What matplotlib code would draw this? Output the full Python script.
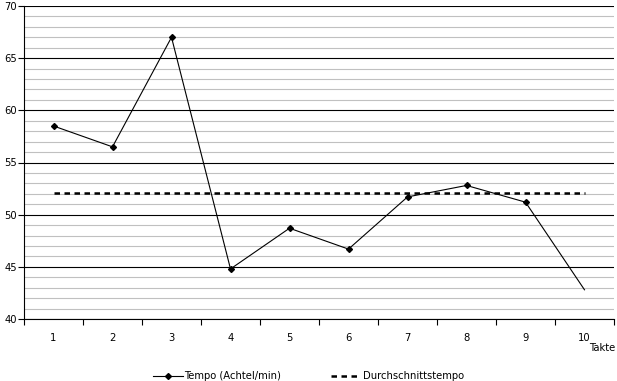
import numpy as np
import matplotlib.pyplot as plt
from matplotlib.ticker import MultipleLocator, FixedLocator

takte = [1, 2, 3, 4, 5, 6, 7, 8, 9, 10]
tempo = [58.5, 56.5, 67.0, 44.8, 48.7, 46.7, 51.7, 52.8, 51.2, 42.8]
durchschnitt = [52.1] * 10

plt.rcParams['font.family'] = ['DejaVu Sans']
plt.rcParams['font.size'] = 7.2

fig = plt.figure(figsize=(6.17, 3.81), dpi=100)
ax = fig.add_axes([24 / 617, 62 / 381, 590 / 617, 313 / 381])

ax.plot(takte, tempo, color='black', lw=0.8, marker='D', markersize=3,
        markevery=list(range(9)), label='Tempo (Achtel/min)', zorder=3)
ax.plot(takte, durchschnitt, color='black', lw=1.8, ls=(0, (2.2, 1.8)),
        label='Durchschnittstempo', zorder=3)

ax.set_xlim(0.5, 10.5)
ax.set_ylim(40, 70)
ax.yaxis.set_major_locator(MultipleLocator(5))
ax.yaxis.set_minor_locator(MultipleLocator(1))
ax.grid(which='minor', axis='y', color='#c0c0c0', lw=0.8)
ax.grid(which='major', axis='y', color='black', lw=0.8)
ax.set_axisbelow(True)

ax.xaxis.set_major_locator(FixedLocator(np.arange(0.5, 11, 1)))
ax.xaxis.set_minor_locator(FixedLocator(takte))
ax.xaxis.set_major_formatter(plt.NullFormatter())
ax.xaxis.set_minor_formatter(plt.FixedFormatter([str(t) for t in takte]))
ax.tick_params(axis='x', which='major', length=4, width=0.8, direction='out')
ax.tick_params(axis='x', which='minor', length=0, pad=10)
ax.tick_params(axis='y', which='major', length=4, width=0.8, pad=1)
ax.tick_params(axis='y', which='minor', length=0)

for s in ['top', 'right']:
    ax.spines[s].set_visible(False)
ax.spines['left'].set_linewidth(0.8)
ax.spines['bottom'].set_linewidth(0.8)

fig.text(0.998, 1 - 348 / 381, 'Takte', ha='right', va='center')

ax.legend(loc='center', bbox_to_anchor=(0.5, 1 - 376 / 381), bbox_transform=fig.transFigure,
          ncol=2, frameon=False, handlelength=3, columnspacing=5, handletextpad=0.2)

fig.savefig('out.png', dpi=100)
